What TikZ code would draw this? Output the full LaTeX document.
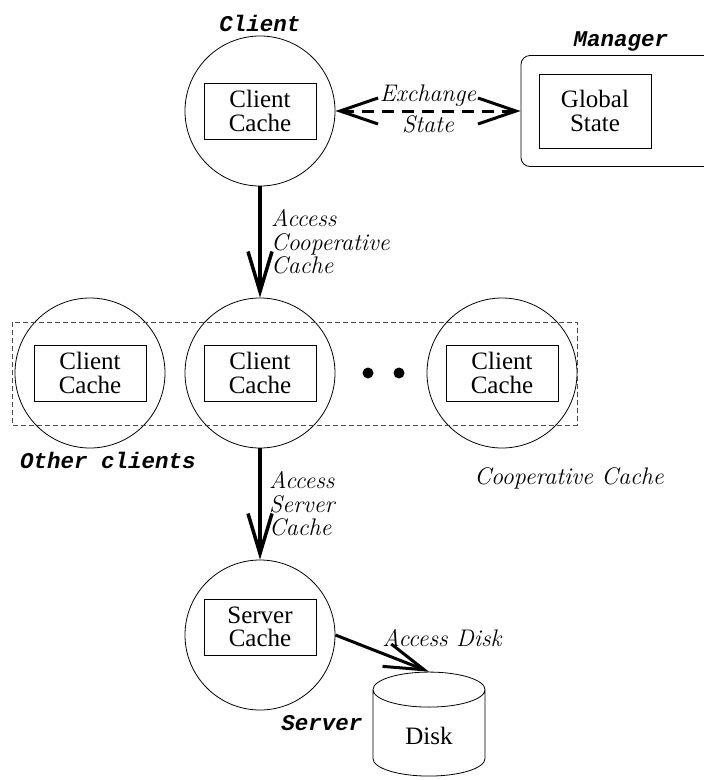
\documentclass[tikz,border=0pt]{standalone}
\usepackage{fontspec}
\newfontfamily\boxfont{Liberation Serif}
\newfontfamily\tagfont{Liberation Mono}
\usetikzlibrary{positioning, arrows.meta, shapes.geometric}

\begin{document}
\begin{tikzpicture}[x=1pt, y=-1pt, node distance=262pt,
  proc/.style = {draw, circle, minimum size=150pt, inner sep=0pt, line width=0.8pt},
  cachebox/.style = {draw, rectangle, minimum width=112pt, minimum height=56pt, inner sep=0pt, align=center, line width=0.8pt, font=\fontsize{25}{23.5}\boxfont},
  tag/.style = {font=\fontsize{22.5}{22}\tagfont\bfseries\itshape},
  note/.style = {font=\fontsize{24}{23.5}\selectfont\itshape, align=left},
  flow/.style = {line width=3.5pt, -{Straight Barb[length=40pt, width=24pt]}},
  xchg/.style = {line width=3pt, dash pattern=on 12pt off 8pt, {Straight Barb[length=38pt, width=26pt]}-{Straight Barb[length=38pt, width=26pt]}}]
\useasboundingbox (0,0) rectangle (704,780);

\node[proc, label={[tag]above:Client}] (ctop) at (260,111) {};
\node[proc, below of=ctop] (cmid) {};
\node[proc, below of=cmid, label={[tag, xshift=62pt, yshift=-2pt]below:Server}] (csrv) {};
\node[proc, node distance=170pt, left of=cmid, label={[tag, xshift=18pt]below:Other clients}] (cleft) {};
\node[proc, node distance=242pt, right of=cmid, label={[note, xshift=67pt, yshift=-16pt]below:Cooperative Cache}] (cright) {};
\node[draw, rounded corners=9pt, minimum width=200pt, minimum height=111pt, line width=0.8pt, node distance=361pt, right of=ctop, label={[tag]above:Manager}] (mgr) {};

\node[cachebox] (btop) at (ctop) {Client\\Cache};
\node[cachebox] (bmid) at (cmid) {Client\\Cache};
\node[cachebox] (bleft) at (cleft) {Client\\Cache};
\node[cachebox] (bright) at (cright) {Client\\Cache};
\node[cachebox, yshift=8pt] (bsrv) at (csrv) {Server\\Cache};
\node[cachebox, minimum height=74pt, right=18pt of mgr.west] (bglobal) {Global\\State};
\node[draw, cylinder, shape border rotate=90, aspect=0.65, minimum width=112pt, minimum height=104pt, line width=0.8pt, font=\fontsize{25}{23}\boxfont] (disk) at (429,736) {Disk};

% cooperative cache frame
\draw[black!70, line width=0.8pt, dash pattern=on 5pt off 3pt] (12,322) rectangle (577,425);
\fill (368,373) circle (5.5pt);
\fill (399,373) circle (5.5pt);

\draw[xchg] (ctop) -- node[note, above=0pt]{Exchange} node[note, below=0pt]{State} (mgr);
\draw[flow] (ctop) -- node[note, right=6pt]{Access\\Cooperative\\Cache} (cmid);
\draw[flow] (cmid) -- node[note, right=4pt]{Access\\Server\\Cache} (csrv);
\draw[flow, line width=3pt] (csrv.east) -- node[note, pos=0.45, anchor=south west]{Access Disk} (disk.top);
\end{tikzpicture}
\end{document}
